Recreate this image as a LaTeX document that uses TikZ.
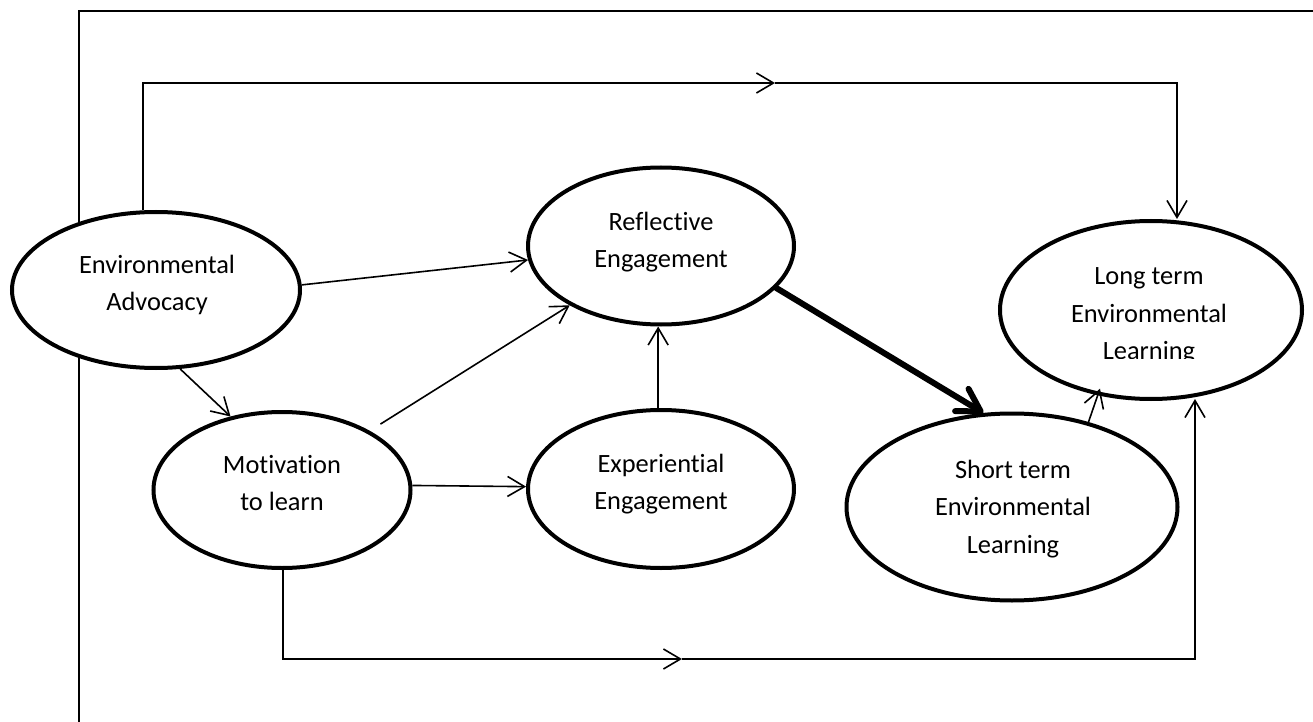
\documentclass[tikz,border=0pt]{standalone}
\usepackage{fontspec}
\setmainfont{Carlito}[Ligatures={NoCommon,NoRare,NoContextual}]
\usetikzlibrary{shapes.geometric,arrows.meta,calc}

% centred multi-line label whose baseline is that of its first line
\newcommand\lblstack[1]{\begin{tabular}[t]{@{}c@{}}#1\end{tabular}}

\begin{document}
\begin{tikzpicture}[x=0.5pt,y=-0.5pt,
  bubble/.style={ellipse, draw, line width=2pt, fill=white, inner sep=0pt},
  caption/.style={anchor=base, inner sep=0pt, font=\fontsize{13.2pt}{18.75pt}\selectfont},
  frameline/.style={line width=1pt},
  link/.style={line width=0.8pt, -{Straight Barb[length=8.5pt,width=10pt]}},
  heavy/.style={line width=3pt, line cap=round,
    -{Straight Barb[length=11pt,width=13pt,round]}},
]
\useasboundingbox (0,0) rectangle (1313,722);

% outer frame
\draw[frameline] (79,740) -- (79,11) -- (1330,11);

% construct ellipses
\node[bubble, minimum width=144pt, minimum height=78pt]   (env)   at (156,290)  {};
\node[bubble, minimum width=133pt, minimum height=78.5pt] (refl)  at (661,246)  {};
\node[bubble, minimum width=133pt, minimum height=79pt]   (expe)  at (661,489)  {};
\node[bubble, minimum width=128.5pt, minimum height=78pt] (moti)  at (282,490)  {};
\node[bubble, minimum width=165.5pt, minimum height=93.5pt] (short) at (1012,507) {};
\node[bubble, minimum width=151pt, minimum height=89pt]   (long)  at (1151,310) {};

% labels
\node[caption] (envtxt)   at (157,273)  {\lblstack{Environmental\\Advocacy}};
\node[caption] (refltxt)  at (661,230)  {\lblstack{Reflective\\Engagement}};
\node[caption] (expetxt)  at (661,472)  {\lblstack{Experiential\\Engagement}};
\node[caption] (motitxt)  at (282,473)  {\lblstack{Motivation\\to learn}};
\node[caption] (shorttxt) at (1013,478) {\lblstack{Short term\\Environmental\\Learning}};
\begin{scope}
  \clip (990,200) rectangle (1310,358);
  \node[caption] (longtxt) at (1149,285) {\lblstack{Long term\\Environmental\\Learning}};
\end{scope}

% corner points of the routed paths
\coordinate (tl) at (143,83);
\coordinate (tm) at (775,83);
\coordinate (tr) at (1177,83);
\coordinate (bl) at (283,659);
\coordinate (bm) at (682,659);
\coordinate (br) at (1195,659);

% direct paths
\draw[link] (env.2) -- (refl.186);
\draw[link, shorten <=6.3pt] (moti.34.8) -- (refl.213.4);
\draw[link] (env.287) -- (moti.125);
\draw[link] (moti.2) -- (expe.179);
\draw[link] (expe.92) -- (expe.92 |- refl.south);
\draw[heavy] (refl.340) -- (short.107.7);
\draw[link, shorten >=-3.5pt] (short.48.9) -- (long.238.6);

% routed paths
\draw[link] (env.north -| tl) -- (tl) -- (tm);
\draw[link] (tm) -- (tr) -- (tr |- long.north);
\draw[link] (moti.south -| bl) -- (bl) -- (bm);
\draw[link] (bm) -- (br) -- ([yshift=1pt]br |- long.south);
\end{tikzpicture}
\end{document}
